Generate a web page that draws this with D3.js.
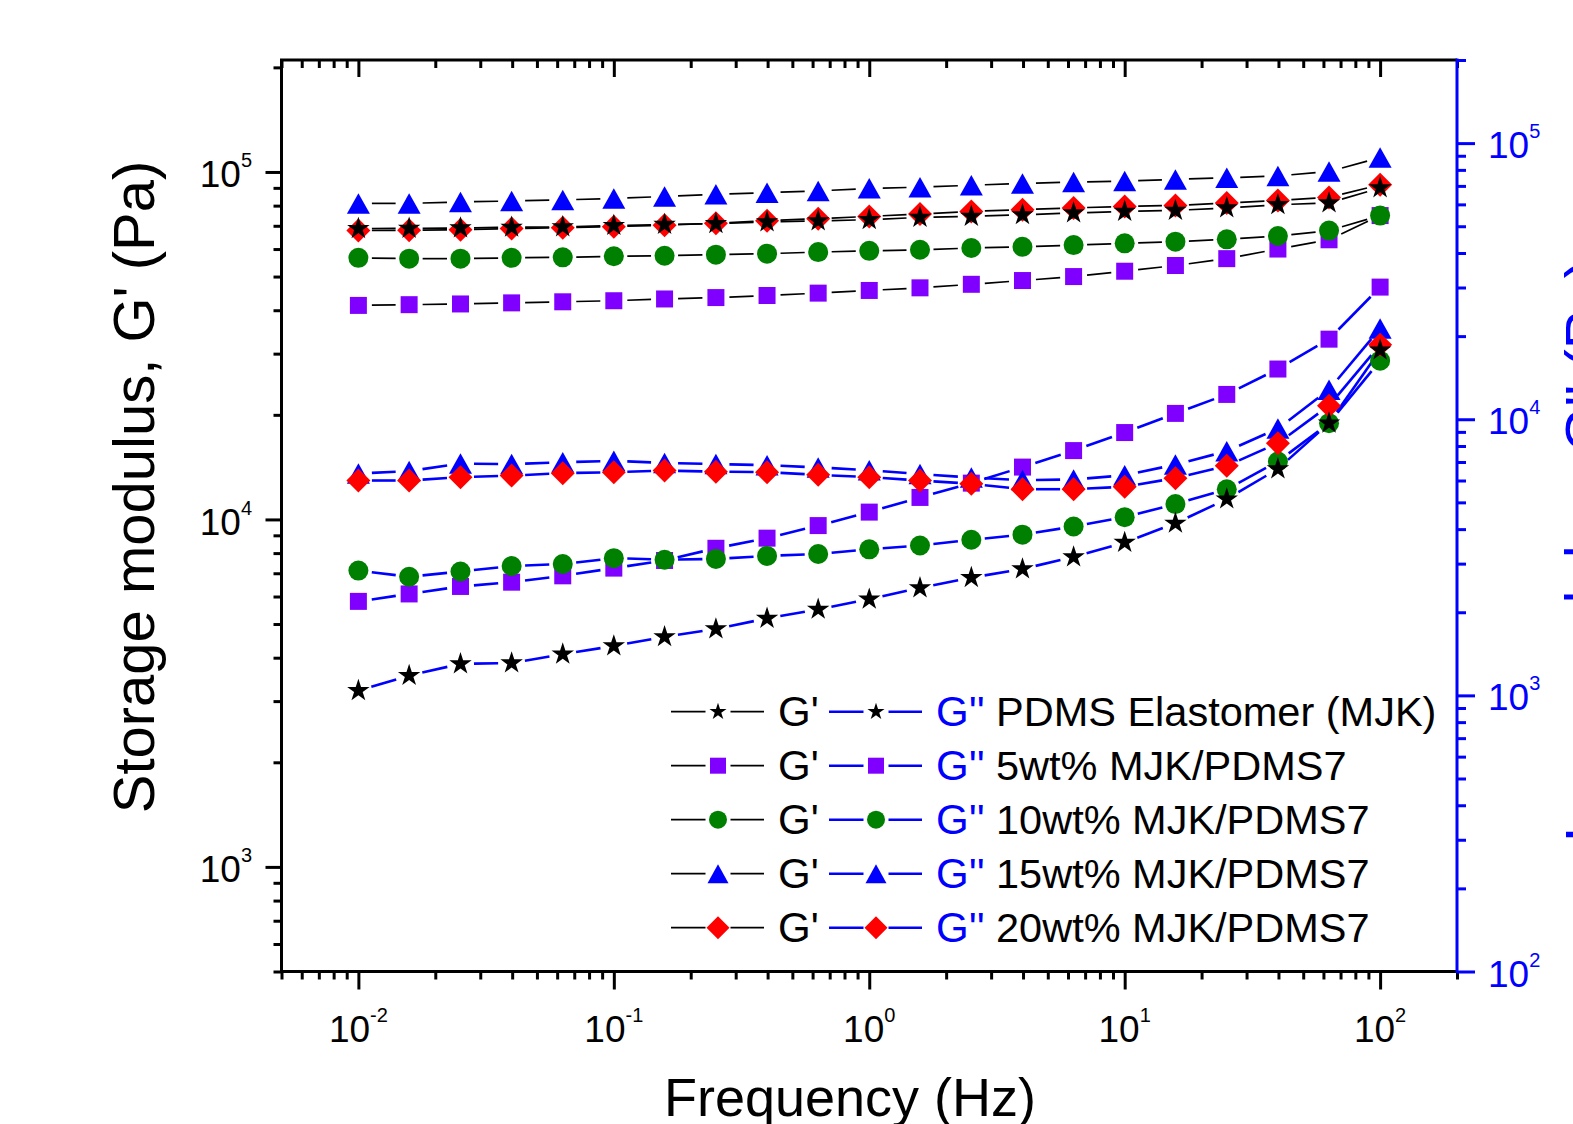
<!DOCTYPE html>
<html>
<head>
<meta charset="utf-8">
<script src="https://cdn.jsdelivr.net/npm/d3@7"></script>
<style>
  html, body { margin: 0; padding: 0; background: #fff; }
  svg { display: block; font-family: "Liberation Sans", Arial, sans-serif; }
</style>
</head>
<body>
<script>
// frequency sweep (Hz)
const freq = [0.01, 0.0158, 0.0251, 0.0398, 0.0631, 0.1, 0.158, 0.251, 0.398, 0.631,
  1, 1.58, 2.51, 3.98, 6.31, 10, 15.8, 25.1, 39.8, 63.1, 100];

const sampleNames = ['PDMS Elastomer (MJK)', '5wt% MJK/PDMS7', '10wt% MJK/PDMS7',
  '15wt% MJK/PDMS7', '20wt% MJK/PDMS7'];

// storage modulus G' (Pa), left axis
const storagePDMS = [68700, 68800, 69000, 69300, 69500, 70100, 70600, 71000, 71800, 72300,
  72900, 74000, 74500, 75300, 76200, 77000, 77500, 78800, 80500, 81400, 90000];
const storage5 = [41300, 41500, 41700, 42000, 42300, 42600, 43100, 43500, 44100, 44800,
  45600, 46400, 47500, 48700, 50000, 51800, 53800, 56300, 60000, 63800, 74900];
const storage10 = [56600, 56300, 56300, 56600, 56800, 57200, 57400, 57800, 58200, 58800,
  59300, 59700, 60400, 60900, 61600, 62300, 63000, 64000, 65400, 67800, 74900];
const storage15 = [81200, 81200, 82000, 82500, 83100, 83900, 85000, 86200, 87200, 88200,
  89700, 90400, 91600, 92700, 93500, 94200, 95200, 96200, 97400, 100300, 110000];
const storage20 = [67800, 68000, 68200, 68700, 69100, 69600, 70300, 71200, 72400, 73400,
  74500, 75700, 77000, 77900, 78800, 79600, 80100, 81400, 82800, 84500, 91900];

// loss modulus G'' (Pa), right axis
const lossPDMS = [1040, 1180, 1300, 1310, 1410, 1510, 1630, 1740, 1900, 2050,
  2230, 2450, 2670, 2870, 3170, 3580, 4200, 5140, 6610, 9680, 17800];
const loss5 = [2190, 2330, 2480, 2570, 2710, 2890, 3080, 3410, 3710, 4120,
  4610, 5210, 5870, 6710, 7700, 8950, 10500, 12300, 15200, 19500, 30100];
const loss10 = [2830, 2690, 2810, 2940, 2990, 3140, 3100, 3120, 3200, 3250,
  3380, 3490, 3660, 3820, 4090, 4420, 4930, 5580, 7030, 9680, 16300];
const loss15 = [6360, 6490, 6910, 6880, 6990, 7070, 6950, 6880, 6820, 6690,
  6540, 6330, 6150, 6020, 6050, 6270, 6850, 7660, 9250, 12800, 21300];
const loss20 = [6000, 6000, 6170, 6250, 6380, 6430, 6520, 6460, 6430, 6290,
  6170, 6000, 5840, 5580, 5580, 5700, 6120, 6780, 8190, 11200, 18600];

const storageSets = [storagePDMS, storage5, storage10, storage15, storage20];
const lossSets = [lossPDMS, loss5, loss10, loss15, loss20];

const markerColors = ['#000000', '#8000ff', '#008000', '#0000ff', '#ff0000'];
const markerShapes = ['star', 'square', 'circle', 'triangle', 'diamond'];
const drawOrder = [1, 2, 3, 4, 0];

const W = 1573, H = 1124;
const plotL = 281.5, plotR = 1457, plotT = 60, plotB = 971.5;
const blue = '#0000ff';

const svg = d3.select('body').append('svg')
  .attr('width', W).attr('height', H)
  .attr('xmlns', 'http://www.w3.org/2000/svg');

const x = d3.scaleLog().domain([0.005, 200]).range([plotL, plotR]);
const yL = d3.scaleLog().domain([500, 2.1e5]).range([plotB, plotT]);
const yR = d3.scaleLog().domain([100, 2e5]).range([plotB, plotT]);

const isMajor = v => Math.abs(Math.log10(v) - Math.round(Math.log10(v))) < 1e-9;

function markerPath(shape, s) {
  if (shape === 'star') return d3.symbol(d3.symbolStar, s.star * s.star / 0.8908130915292852)();
  if (shape === 'square') return d3.symbol(d3.symbolSquare, (2 * s.square) ** 2)();
  if (shape === 'circle') return d3.symbol(d3.symbolCircle, Math.PI * s.circle * s.circle)();
  if (shape === 'triangle') {
    const w = s.triW / 2, h = s.triH / 2;
    return `M0,${-h}L${w},${h}L${-w},${h}Z`;
  }
  const r = s.diamond;
  return `M0,${-r}L${r},0L0,${r}L${-r},0Z`;
}

const plotSize = {star: 11.8, square: 8.5, circle: 10, triW: 23, triH: 20.5, diamond: 12};
const legendSize = {star: 9, square: 8, circle: 9, triW: 21, triH: 19, diamond: 11.5};

// ---- axes ticks ----
function tickAxis(axisFn, scale, values, size, transform, color) {
  const g = svg.append('g').attr('transform', transform)
    .call(axisFn(scale).tickValues(values).tickSize(size).tickSizeOuter(0).tickFormat(''));
  g.select('.domain').remove();
  g.selectAll('line').attr('stroke', color).attr('stroke-width', 3);
  return g;
}

const xt = x.ticks();
const xMaj = xt.filter(isMajor), xMin = xt.filter(v => !isMajor(v));
const yLt = yL.ticks();
const yLMaj = yLt.filter(isMajor), yLMin = yLt.filter(v => !isMajor(v));
const yRt = yR.ticks();
const yRMaj = yRt.filter(isMajor), yRMin = yRt.filter(v => !isMajor(v));

tickAxis(d3.axisBottom, x, xMaj, 18, `translate(0,${plotB})`, '#000');
tickAxis(d3.axisBottom, x, xMin, 8, `translate(0,${plotB})`, '#000');
tickAxis(d3.axisBottom, x, xMaj, 17, `translate(0,${plotT})`, '#000');
tickAxis(d3.axisBottom, x, xMin, 8, `translate(0,${plotT})`, '#000');
tickAxis(d3.axisLeft, yL, yLMaj, 16, `translate(${plotL},0)`, '#000');
tickAxis(d3.axisLeft, yL, yLMin, 8, `translate(${plotL},0)`, '#000');
tickAxis(d3.axisRight, yR, yRMaj, 18, `translate(${plotR},0)`, blue);
tickAxis(d3.axisRight, yR, yRMin, 9, `translate(${plotR},0)`, blue);

// frame
svg.append('path')
  .attr('d', `M${plotR},${plotT}H${plotL}V${plotB}H${plotR}`)
  .attr('fill', 'none').attr('stroke', '#000').attr('stroke-width', 3)
  .attr('stroke-linejoin', 'miter');
svg.append('line')
  .attr('x1', plotR).attr('x2', plotR).attr('y1', plotT - 1.5).attr('y2', plotB + 1.5)
  .attr('stroke', blue).attr('stroke-width', 3);

// ---- tick labels ----
function powLabel(g, v, anchor, px, py, color) {
  const t = g.append('text').attr('x', px).attr('y', py)
    .attr('text-anchor', anchor).attr('fill', color).attr('font-size', 37);
  t.append('tspan').text('10');
  t.append('tspan').attr('font-size', 20).attr('dy', -20).text(Math.round(Math.log10(v)));
}
const labels = svg.append('g');
xMaj.forEach(v => powLabel(labels, v, 'middle', x(v), 1042, '#000'));
yLMaj.forEach(v => powLabel(labels, v, 'end', 252, yL(v) + 15.5, '#000'));
yRMaj.forEach(v => powLabel(labels, v, 'start', 1488, yR(v) + 15, blue));

// ---- titles ----
svg.append('text')
  .attr('transform', 'translate(153.5,487) rotate(-90)')
  .attr('text-anchor', 'middle').attr('font-size', 58)
  .text("Storage modulus, G' (Pa)");
svg.append('text')
  .attr('transform', 'translate(1605.5,842) rotate(-90)')
  .attr('text-anchor', 'start').attr('font-size', 58).attr('fill', blue)
  .text("Loss modulus, G'' (Pa)");
svg.append('text')
  .attr('x', 850).attr('y', 1116)
  .attr('text-anchor', 'middle').attr('font-size', 54)
  .text('Frequency (Hz)');

// ---- data: gapped segments then markers ----
function gappedSegments(pts, gap) {
  const segs = [];
  for (let i = 0; i < pts.length - 1; i++) {
    const [x1, y1] = pts[i], [x2, y2] = pts[i + 1];
    const d = Math.hypot(x2 - x1, y2 - y1);
    if (d <= 2 * gap) continue;
    const ux = (x2 - x1) / d, uy = (y2 - y1) / d;
    segs.push([x1 + ux * gap, y1 + uy * gap, x2 - ux * gap, y2 - uy * gap]);
  }
  return segs;
}

const plotArea = svg.append('g');
const groups = [
  {sets: storageSets, y: yL, line: '#000000', width: 1.7},
  {sets: lossSets, y: yR, line: blue, width: 2.6}
];

groups.forEach(grp => {
  grp.sets.forEach(vals => {
    const pts = vals.map((v, i) => [x(freq[i]), grp.y(v)]);
    plotArea.append('g').selectAll('line')
      .data(gappedSegments(pts, 13.5))
      .join('line')
      .attr('x1', d => d[0]).attr('y1', d => d[1])
      .attr('x2', d => d[2]).attr('y2', d => d[3])
      .attr('stroke', grp.line).attr('stroke-width', grp.width);
  });
});

groups.forEach(grp => {
  drawOrder.forEach(k => {
    plotArea.append('g').selectAll('path')
      .data(grp.sets[k])
      .join('path')
      .attr('transform', (v, i) => `translate(${x(freq[i])},${grp.y(v)})`)
      .attr('d', markerPath(markerShapes[k], plotSize))
      .attr('fill', markerColors[k]);
  });
});

// ---- legend ----
const legend = svg.append('g');
const rowY = k => 711.7 + k * 54;
sampleNames.forEach((name, k) => {
  const yy = rowY(k);
  const row = legend.append('g');
  [[671, 718, 764, '#000000', 1.7], [829, 876, 922, blue, 2.6]].forEach(([a, m, b, col, w]) => {
    row.append('line').attr('x1', a).attr('x2', m - 12.5).attr('y1', yy).attr('y2', yy)
      .attr('stroke', col).attr('stroke-width', w);
    row.append('line').attr('x1', m + 12.5).attr('x2', b).attr('y1', yy).attr('y2', yy)
      .attr('stroke', col).attr('stroke-width', w);
    row.append('path').attr('transform', `translate(${m},${yy})`)
      .attr('d', markerPath(markerShapes[k], legendSize))
      .attr('fill', markerColors[k]);
  });
  row.append('text').attr('x', 778).attr('y', yy + 14).attr('font-size', 42).text("G'");
  row.append('text').attr('x', 936).attr('y', yy + 14).attr('font-size', 42)
    .attr('fill', blue).text("G''");
  row.append('text').attr('x', 996).attr('y', yy + 14).attr('font-size', 41.5).text(name);
});
</script>
</body>
</html>
